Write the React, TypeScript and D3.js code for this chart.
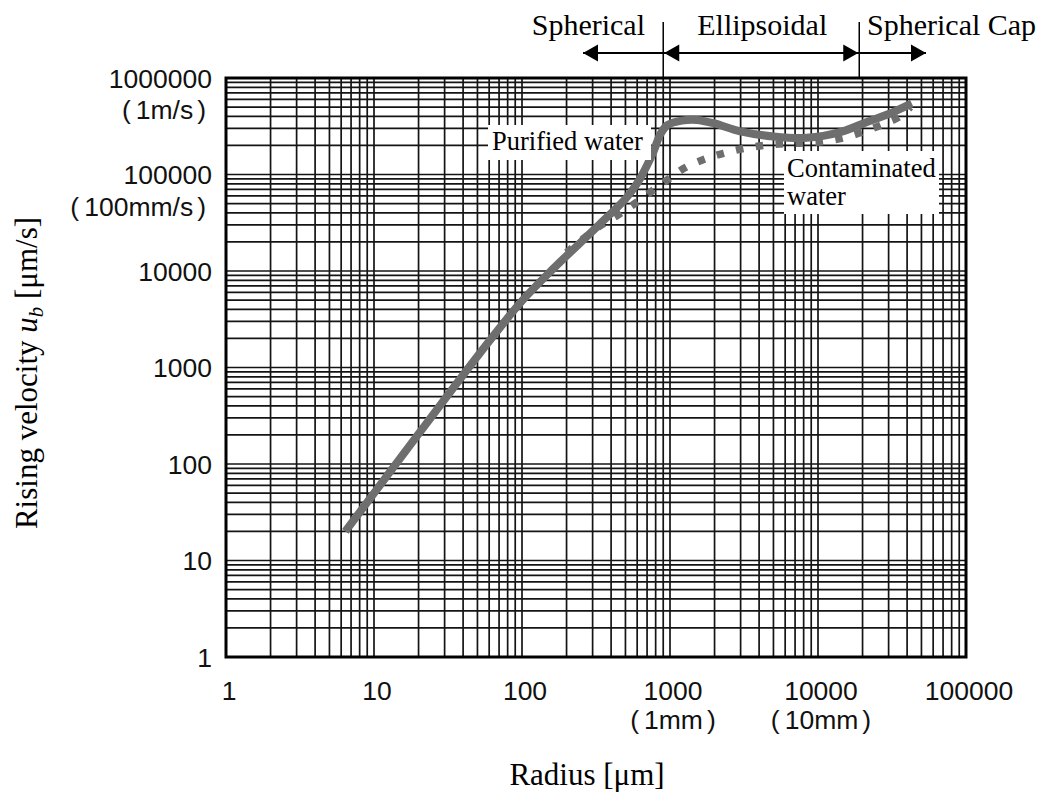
import React from "react";
import * as d3 from "d3";

// ---- data ----
const purifiedR = [6.4, 20, 58, 100, 164, 322, 500, 580, 631, 700, 776, 861, 960, 1200, 1520, 1970, 2985, 5000, 8400, 14100, 21400, 30700, 43000];
const purifiedU = [20, 205, 1750, 4900, 10700, 28800, 56000, 75000, 92000, 125000, 175000, 262000, 325000, 362000, 368000, 340000, 280000, 248000, 240000, 275000, 350000, 430000, 546000];

const contamR = [200, 322, 450, 600, 780, 1000, 1270, 1730, 2300, 3140, 4300, 5850, 8000, 10900, 14900, 20300, 27000, 35900, 42000];
const contamU = [15500, 28000, 38500, 52000, 70000, 92000, 118000, 145000, 166000, 186000, 200000, 208000, 212000, 220000, 240000, 278000, 328000, 400000, 500000];

const xTickValues = [1, 10, 100, 1000, 10000, 100000];
const xTickLabels = ["1", "10", "100", "1000", "10000", "100000"];
const xSubLabels = ["", "", "", "1mm", "10mm", ""];

const yTickValues = [1, 10, 100, 1000, 10000, 100000, 1000000];
const yTickLabels = ["1", "10", "100", "1000", "10000", "100000", "1000000"];
const ySubLabels = ["", "", "", "", "", "100mm/s", "1m/s"];

const regimeBounds = [900, 19000];
const regimeNames = ["Spherical", "Ellipsoidal", "Spherical Cap"];

const SERIF = "'Liberation Serif', 'Times New Roman', serif";
const SANS = "'Liberation Sans', Arial, sans-serif";

export default function App() {
  const W = 1051, H = 801;
  const L = 226, R = 966, T = 78, B = 657;
  const x = d3.scaleLog().domain([1, 100000]).range([L, R]);
  const y = d3.scaleLog().domain([1, 1000000]).range([B, T]);

  const xGrid = x.ticks();
  const yGrid = y.ticks();

  const line = d3
    .line<[number, number]>()
    .x((d) => x(d[0]))
    .y((d) => y(d[1]))
    .curve(d3.curveCatmullRom.alpha(0.5));

  const purePts = purifiedR.map((r, i) => [r, purifiedU[i]] as [number, number]);
  const contPts = contamR.map((r, i) => [r, contamU[i]] as [number, number]);

  const gridColor = "#141414";
  const curveColor = "#6e6e6e";

  const b1 = x(regimeBounds[0]);
  const b2 = x(regimeBounds[1]);
  const arrowY = 53;
  const ah = 15, aw = 8.5;

  const arrowLeft = (tx: number) => `M${tx},${arrowY} L${tx + ah},${arrowY - aw} L${tx + ah},${arrowY + aw} Z`;
  const arrowRight = (tx: number) => `M${tx},${arrowY} L${tx - ah},${arrowY - aw} L${tx - ah},${arrowY + aw} Z`;

  return (
    <svg width={W} height={H} style={{ position: "absolute", left: 0, top: 0, display: "block", background: "#fff" }}>
      <rect x={0} y={0} width={W} height={H} fill="#fff" />
      {/* grid */}
      <g>
        {xGrid.map((v, i) => (
          <line key={"gx" + i} x1={x(v)} x2={x(v)} y1={T} y2={B} stroke={gridColor} strokeWidth={1.7} />
        ))}
        {yGrid.map((v, i) => (
          <line key={"gy" + i} x1={L} x2={R} y1={y(v)} y2={y(v)} stroke={gridColor} strokeWidth={1.7} />
        ))}
      </g>

      {/* curves */}
      <path d={line(contPts) || ""} fill="none" stroke={curveColor} strokeWidth={7.5} strokeDasharray="7.5 12.5" />
      <path d={line(purePts) || ""} fill="none" stroke={curveColor} strokeWidth={8} />

      {/* border */}
      <rect x={L} y={T} width={R - L} height={B - T} fill="none" stroke="#000" strokeWidth={3} />

      {/* in-plot labels */}
      <rect x={488} y={125} width={163} height={35} fill="#fff" />
      <text x={492} y={149.5} fontFamily={SERIF} fontSize={26.5} fill="#000">Purified water</text>
      <rect x={784} y={151} width={155} height={63} fill="#fff" />
      <text x={787} y={177} fontFamily={SERIF} fontSize={26.5} fill="#000">Contaminated</text>
      <text x={787} y={205} fontFamily={SERIF} fontSize={26.5} fill="#000">water</text>

      {/* y tick labels */}
      {yTickValues.map((v, i) => (
        <g key={"yt" + i}>
          <text x={212} y={y(v) + 9.5} textAnchor="end" fontFamily={SANS} fontSize={26.5} fill="#111">
            {yTickLabels[i]}
          </text>
          {ySubLabels[i] && (
            <text x={206} y={y(v) + 41} textAnchor="end" fontFamily={SANS} fontSize={26.5} fill="#111">
              <tspan>(</tspan>
              <tspan dx={5}>{ySubLabels[i]}</tspan>
              <tspan dx={4}>)</tspan>
            </text>
          )}
        </g>
      ))}

      {/* x tick labels */}
      {xTickValues.map((v, i) => (
        <g key={"xt" + i}>
          <text x={x(v) + 3} y={700} textAnchor="middle" fontFamily={SANS} fontSize={26.5} fill="#111">
            {xTickLabels[i]}
          </text>
          {xSubLabels[i] && (
            <text x={x(v) + 3} y={729} textAnchor="middle" fontFamily={SANS} fontSize={26.5} fill="#111">
              <tspan>(</tspan>
              <tspan dx={5}>{xSubLabels[i]}</tspan>
              <tspan dx={4}>)</tspan>
            </text>
          )}
        </g>
      ))}

      {/* axis titles */}
      <text x={587} y={785} textAnchor="middle" fontFamily={SERIF} fontSize={31} fill="#000">Radius [μm]</text>
      <text transform="translate(37,373) rotate(-90)" textAnchor="middle" fontFamily={SERIF} fontSize={31} fill="#000">
        <tspan>Rising velocity </tspan>
        <tspan fontStyle="italic">u</tspan>
        <tspan fontStyle="italic" fontSize={21} dy={6}>b</tspan>
        <tspan dy={-6}> [μm/s]</tspan>
      </text>

      {/* regime annotations */}
      <line x1={b1} x2={b1} y1={22} y2={T} stroke="#000" strokeWidth={1.5} />
      <line x1={b2} x2={b2} y1={22} y2={T} stroke="#000" strokeWidth={1.5} />
      <line x1={583} x2={b1} y1={arrowY} y2={arrowY} stroke="#000" strokeWidth={1.8} />
      <path d={arrowLeft(583)} fill="#000" />
      <line x1={b1} x2={b2} y1={arrowY} y2={arrowY} stroke="#000" strokeWidth={1.8} />
      <path d={arrowLeft(b1 + 1)} fill="#000" />
      <path d={arrowRight(b2 - 1)} fill="#000" />
      <line x1={b2} x2={926} y1={arrowY} y2={arrowY} stroke="#000" strokeWidth={1.8} />
      <path d={arrowRight(926)} fill="#000" />
      <text x={645} y={35} textAnchor="end" fontFamily={SERIF} fontSize={30} fill="#000">{regimeNames[0]}</text>
      <text x={(b1 + b2) / 2 + 1} y={35} textAnchor="middle" fontFamily={SERIF} fontSize={30} fill="#000">{regimeNames[1]}</text>
      <text x={867} y={35} textAnchor="start" fontFamily={SERIF} fontSize={30} fill="#000">{regimeNames[2]}</text>
    </svg>
  );
}
